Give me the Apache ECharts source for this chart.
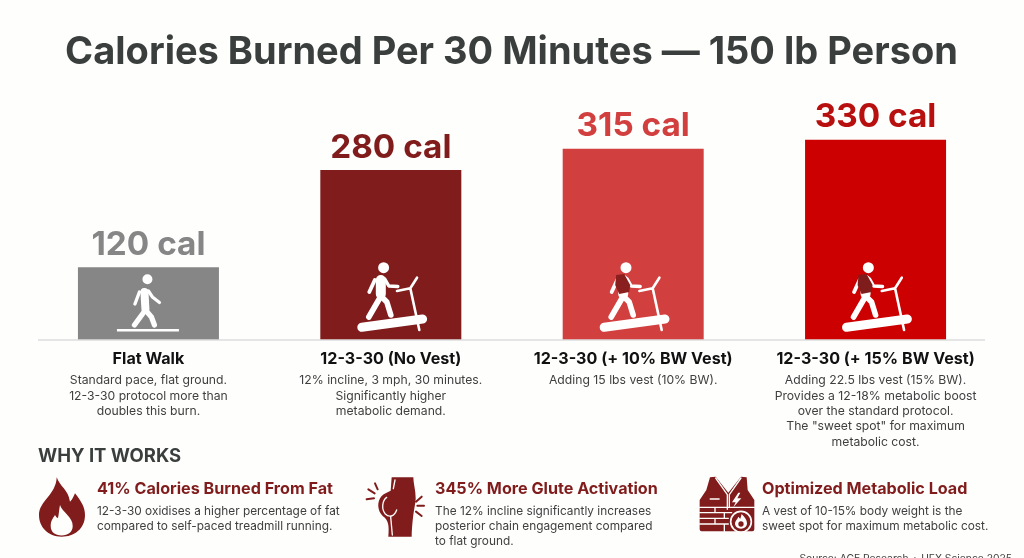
<!DOCTYPE html>
<html><head><meta charset="utf-8">
<style>html,body{margin:0;padding:0;background:#fefefd}#c{width:1024px;height:558px}</style>
<script src="https://cdn.jsdelivr.net/npm/echarts@6/dist/echarts.min.js"></script>
</head><body><div id="c"></div>
<script>
const categories = ['Flat Walk','12-3-30 (No Vest)','12-3-30 (+ 10% BW Vest)','12-3-30 (+ 15% BW Vest)'];
const calories = [120,280,315,330];
const barColors = ['#868686','#801c1c','#d23f3f','#cc0000'];
const labelColors = ['#868686','#801c1c','#d23f3f','#b80f0f'];
const descriptions = [
 ['Standard pace, flat ground.','12-3-30 protocol more than','doubles this burn.'],
 ['12% incline, 3 mph, 30 minutes.','Significantly higher','metabolic demand.'],
 ['Adding 15 lbs vest (10% BW).'],
 ['Adding 22.5 lbs vest (15% BW).','Provides a 12-18% metabolic boost','over the standard protocol.','The "sweet spot" for maximum','metabolic cost.']
];
const FONT='Inter, Roboto, "Liberation Sans", sans-serif';
const DARK='#801c1c', BG='#fefefd';
const chart=echarts.init(document.getElementById('c'),null,{renderer:'canvas'});

let shapeId=0;
function pathShape(d){const n='iconpath'+(shapeId++);echarts.graphic.registerShape(n,echarts.graphic.extendPath(d,{}));return n;}
function txt(x,y,text,size,weight,fill,align){return {type:'text',x:x,y:y,silent:true,style:{text:text,font:weight+' '+size+'px '+FONT,fill:fill,textAlign:align||'left',textVerticalAlign:'middle'}};}
function stroke(d,color,w,z){return {type:pathShape(d),z:z||100,style:{fill:'none',stroke:color,lineWidth:w,lineCap:'round',lineJoin:'round'},silent:true};}
function fill(d,color,z){return {type:pathShape(d),z:z||100,style:{fill:color},silent:true};}
function dot(cx,cy,r,color,z){return {type:'circle',z:z||100,shape:{cx:cx,cy:cy,r:r},style:{fill:color},silent:true};}

function walker(cx){return {type:'group',x:cx,y:340,silent:true,children:[
  dot(-1,-60.7,5,'#fff'),
  stroke('M-4,-48 L-3,-31','#fff',8),
  stroke('M-3,-30 L-14,-15','#fff',5.2),
  stroke('M-3,-30 L3,-23 L6,-15','#fff',5.2),
  stroke('M0,-49 L4,-43 L11,-37.5','#fff',3.2),
  stroke('M-9,-48 L-13.5,-36','#fff',3.4),
  fill('M-31.5,-11 H30.5 V-8.5 H-31.5 Z','#fff')
]};}
function treadmill(cx,vest){const kids=[
  dot(-7.2,-72.3,5.5,'#fff'),
  stroke('M-10,-60 L-10,-46','#fff',10),
  stroke('M-6,-61 L-2,-54 L7,-53.5','#fff',3.4),
  stroke('M-16,-60 L-21.5,-48','#fff',3.8),
  stroke('M-11,-42 L-22,-23','#fff',5.6),
  stroke('M-8,-42 L-4,-38 L0,-25','#fff',5.6),
  stroke('M6.2,-49 L19.5,-51.7 L26.2,-62.3 M19.5,-51.7 L28.5,-10','#fff',2.6),
  stroke('M-29,-12.7 L31.8,-21','#fff',9)
];
 if(vest) kids.push(fill('M-17,-65 L-9,-66 L-3,-55 L-4,-48 L-14,-46 L-18,-55 Z',vest,101));
 return {type:'group',x:cx,y:340,silent:true,children:kids};}

const flame={type:'group',x:38,y:477,silent:true,children:[
  fill('M18.7,0.3 C22,10 30,12 32,24.7 C35,22 36,18 37,16.3 C43,24 47,30 47,38 C47,52 36,59.7 23.7,59.7 C10,59.7 1,50 1,38 C1,24 18,18 18.7,0.3 Z',DARK),
  fill('M22,28 C24,35 35,40 34.7,49 C34.7,55 30,58.5 23.7,58.5 C17,58.5 12.7,55 12.7,49 C12.7,44 15,41 17,38 C18,40 19,41 20,41 C21,37 21,32 22,28 Z',BG,101)
]};
const glute={type:'group',x:360,y:470,scaleX:1/3,scaleY:1/3,silent:true,children:[
  fill('M95,22 L160,22 C160,40 167,60 167,85 C167,105 158,125 155,200 L85,200 C88,165 85,150 68,138 C52,122 50,95 65,78 C72,70 85,66 92,62 Z',DARK),
  stroke('M105,30 L100,56',BG,4,101),
  stroke('M80,82 C66,92 64,118 76,132 C86,142 102,142 110,120 M92,140 L97,195',BG,4,101),
  stroke('M45,40 L53,58 M25,58 L44,70 M20,88 L42,85 M168,95 L185,80 M172,107 L192,107 M168,125 L185,138',DARK,6)
]};
const vest={type:'group',x:695,y:470,scaleX:1/3,scaleY:1/3,silent:true,children:[
  fill('M45,22 L62,20 L100,68 L138,20 L155,22 L158,60 L178,90 L178,178 Q178,184 172,184 L20,184 Q14,184 14,178 L14,90 L34,60 Z',DARK),
  stroke('M62,24 L97,74 L97,118 M138,24 L103,74 L103,110',BG,4,101),
  stroke('M46,87 L72,87',BG,5,101),
  stroke('M14,112 L178,112 M14,128 L110,128 M14,145 L100,145 M14,162 L100,162 M60,112 L60,128 M88,128 L88,145 M60,145 L60,162 M88,162 L88,184',BG,4,101),
  fill('M130,68 L111,97 L122,97 L115,112 L139,85 L127,85 L136,68 Z',BG,101),
  {type:'circle',z:102,shape:{cx:138,cy:155,r:31},style:{fill:DARK,stroke:BG,lineWidth:5},silent:true},
  fill('M140,132 C150,142 156,150 156,160 C156,170 148,176 138,176 C128,176 120,170 120,160 C120,152 128,148 130,140 C133,143 135,146 136,146 Z',BG,103),
  dot(138,162,8,DARK,104)
]};

const infos=[
 {x:97,t:'41% Calories Burned From Fat',d:['12-3-30 oxidises a higher percentage of fat','compared to self-paced treadmill running.']},
 {x:435,t:'345% More Glute Activation',d:['The 12% incline significantly increases','posterior chain engagement compared','to flat ground.']},
 {x:762,t:'Optimized Metabolic Load',d:['A vest of 10-15% body weight is the','sweet spot for maximum metabolic cost.']}
];
const infoTexts=[];
infos.forEach(i=>{infoTexts.push(txt(i.x,489.5,i.t,16.15,700,DARK));i.d.forEach((l,k)=>infoTexts.push(txt(i.x,511+k*15,l,11.85,400,'#404040')));});

chart.setOption({
 animation:false,backgroundColor:BG,
 grid:{left:27.25,right:27.25,top:36.5,height:303.5},
 xAxis:{type:'category',data:categories,axisLine:{show:false},axisTick:{show:false},
  axisLabel:{margin:10,interval:0,verticalAlign:'top',align:'center',
   formatter:(v,i)=>'{t|'+v+'}\n{s|}\n'+descriptions[i].map(l=>'{d|'+l+'}').join('\n'),
   rich:{t:{fontFamily:FONT,fontWeight:700,fontSize:16.1,color:'#111',lineHeight:18,align:'center'},s:{height:5,lineHeight:5,fontSize:1},d:{fontFamily:FONT,fontSize:12.2,color:'#404040',lineHeight:15.3,align:'center'}}}},
 yAxis:{type:'value',min:0,max:500,show:false},
 series:[{type:'bar',z:-1,barWidth:141,data:calories.map((v,i)=>({value:v,itemStyle:{color:barColors[i]},
   label:{color:labelColors[i]}})),
   label:{show:true,position:'top',distance:6,formatter:p=>p.value+' cal',fontFamily:FONT,fontWeight:700,fontSize:33.3}}]
});
const cx=categories.map((c,i)=>chart.convertToPixel({xAxisIndex:0},i));
chart.setOption({graphic:{elements:[
 txt(511.5,53,'Calories Burned Per 30 Minutes \u2014 150 lb Person',38,700,'#3a3f3d','center'),
 {type:'line',z:5,shape:{x1:38,y1:340,x2:985,y2:340},style:{stroke:'#dcdcdc',lineWidth:1.5},silent:true},
 walker(cx[0]),treadmill(cx[1]),treadmill(cx[2],'#8a1f1f'),treadmill(cx[3],'#7f1d1d'),
 txt(38,456,'WHY IT WORKS',18.5,700,'#3a3f3d'),
 flame,glute,vest,...infoTexts,
 txt(1012,559,'Source: ACE Research + UFX Science 2025',10.3,400,'#404040','right')
]}});
</script></body></html>
